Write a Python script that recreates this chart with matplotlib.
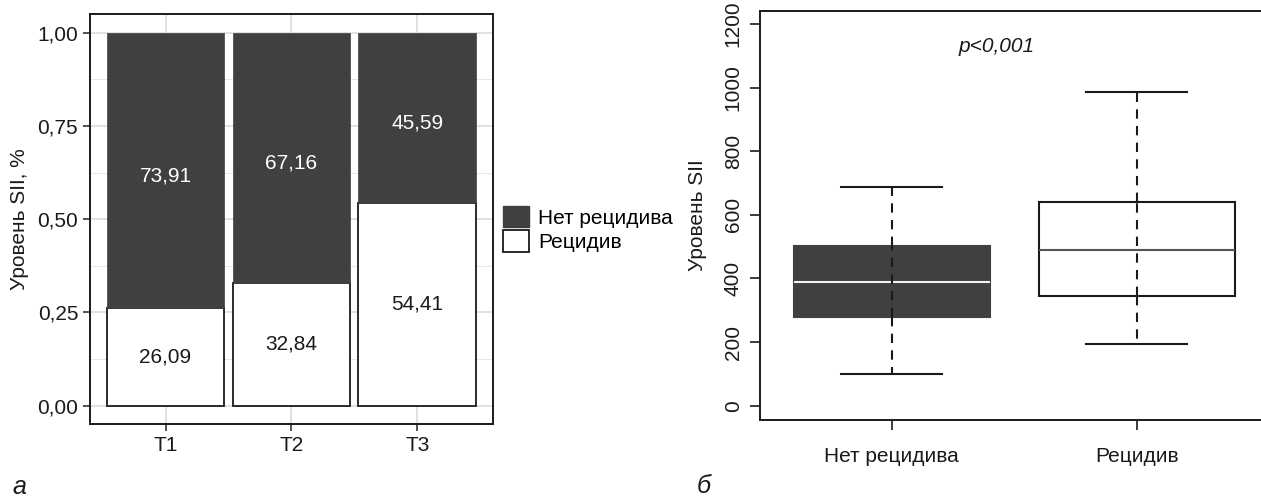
import matplotlib
matplotlib.use("Agg")
import matplotlib.pyplot as plt
from matplotlib.patches import Patch
import numpy as np

plt.rcParams['font.family'] = ['Liberation Sans', 'DejaVu Sans']

# ---- data: panel a ----
stages = ["T1", "T2", "T3"]
relapse_pct = [26.09, 32.84, 54.41]        # Рецидив (white, bottom)
no_relapse_pct = [73.91, 67.16, 45.59]     # Нет рецидива (dark, top)
a_yticks = [0.0, 0.25, 0.50, 0.75, 1.00]
a_yticklabels = ["0,00", "0,25", "0,50", "0,75", "1,00"]

# ---- data: panel б ----
groups = ["Нет рецидива", "Рецидив"]
whisker_low = [100, 194]
q1 = [279, 345]
median = [388, 491]
q3 = [503, 640]
whisker_high = [688, 985]
b_yticks = [0, 200, 400, 600, 800, 1000, 1200]

DARK = "#404040"
W, H = 1261, 499
fig = plt.figure(figsize=(W / 100, H / 100), dpi=100)

# ================= panel a =================
axL = fig.add_axes([90 / W, 1 - 424.3 / H, (492.7 - 90) / W, (424.3 - 14) / H])
x = np.arange(1, len(stages) + 1)
rel = np.array(relapse_pct) / 100
norel = np.array(no_relapse_pct) / 100
bw = 0.935
axL.bar(x, rel, width=bw, color="white", edgecolor="#1a1a1a", linewidth=1.3, zorder=3)
axL.bar(x, norel, bottom=rel, width=bw, color=DARK, edgecolor=DARK, linewidth=0.5, zorder=3)
for xi, r, n, rl, nl in zip(x, rel, norel, relapse_pct, no_relapse_pct):
    axL.text(xi, r / 2, f"{rl:.2f}".replace(".", ","), ha="center", va="center",
             fontsize=15, color="#1a1a1a", zorder=4)
    axL.text(xi, r + n / 2 - 0.015, f"{nl:.2f}".replace(".", ","), ha="center", va="center",
             fontsize=15, color="white", zorder=4)
axL.set_xlim(0.4, 3.6)
axL.set_ylim(-0.05, 1.05)
axL.set_xticks(x)
axL.set_xticklabels(stages)
axL.set_yticks(a_yticks)
axL.set_yticklabels(a_yticklabels)
axL.set_yticks([0.125, 0.375, 0.625, 0.875], minor=True)
axL.grid(which="major", color="#dcdcdc", linewidth=1.2, zorder=0)
axL.grid(which="minor", axis="y", color="#e6e6e6", linewidth=0.7, zorder=0)
axL.set_axisbelow(True)
axL.tick_params(axis="both", which="major", length=5, width=1.2, color="#333333",
                labelsize=15, labelcolor="#1a1a1a", pad=3.5)
axL.tick_params(axis="both", which="minor", length=0)
for s in axL.spines.values():
    s.set_color("#1a1a1a")
    s.set_linewidth(1.4)
axL.set_ylabel("Уровень SII, %", fontsize=15, color="#1a1a1a", labelpad=6)

fig.legend(handles=[Patch(facecolor=DARK, edgecolor=DARK),
                    Patch(facecolor="white", edgecolor="#1a1a1a", linewidth=1.3)],
           labels=["Нет рецидива", "Рецидив"], loc="upper left",
           bbox_to_anchor=(503 / W, 1 - 206 / H), frameon=False, fontsize=15,
           handlelength=1.25, handleheight=1.2, handletextpad=0.45,
           labelspacing=0.12, borderpad=0, borderaxespad=0)

# ================= panel б =================
axR = fig.add_axes([760 / W, 1 - 420 / H, (1263 - 760) / W, (420 - 11) / H])
stats = []
for g, lo, a, m, b, hi in zip(groups, whisker_low, q1, median, q3, whisker_high):
    stats.append(dict(label=g, whislo=lo, q1=a, med=m, q3=b, whishi=hi, fliers=[]))

pos = [1, 2]
dash = (0, (4.5, 3.5))
for i, st in enumerate(stats):
    dark = (i == 0)
    axR.bxp([st], positions=[pos[i]], widths=0.8, capwidths=0.41, patch_artist=True,
            showfliers=False,
            boxprops=dict(facecolor=DARK if dark else "white",
                          edgecolor=DARK if dark else "#1a1a1a", linewidth=1.5),
            medianprops=dict(color="#f0f0f0" if dark else "#555555", linewidth=1.5),
            whiskerprops=dict(color="#1a1a1a", linewidth=1.5, linestyle=dash),
            capprops=dict(color="#1a1a1a", linewidth=1.5),
            manage_ticks=False)
    # dashed whisker continues through the box, as in the reference
    axR.plot([pos[i], pos[i]], [q1[i], q3[i]], color="#1a1a1a", linewidth=1.5,
             linestyle=dash, zorder=5)

axR.set_xlim(1 - 131.7 / 245, 2 + 126.3 / 245)
axR.set_ylim(-45, 1241)
axR.set_xticks(pos)
axR.set_xticklabels(groups)
axR.set_yticks(b_yticks)
axR.set_yticklabels([str(v) for v in b_yticks], rotation=90, va="center")
axR.tick_params(axis="both", length=7.5, width=1.2, color="#1a1a1a",
                labelsize=15, labelcolor="#1a1a1a")
axR.tick_params(axis="y", pad=5)
axR.tick_params(axis="x", pad=12)
for s in axR.spines.values():
    s.set_color("#1a1a1a")
    s.set_linewidth(1.4)
axR.set_ylabel("Уровень SII", fontsize=15, color="#1a1a1a", labelpad=12)
axR.text(1.43, 1128, "p<0,001", ha="center", va="center", fontsize=15,
         style="italic", color="#1a1a1a")

# panel letters
fig.text(12 / W, 1 - 487 / H, "а", fontsize=18, style="italic", ha="left", va="center",
         color="#1a1a1a")
fig.text(697 / W, 1 - 486 / H, "б", fontsize=18, style="italic", ha="left", va="center",
         color="#1a1a1a")

fig.savefig("out.png", dpi=100)
